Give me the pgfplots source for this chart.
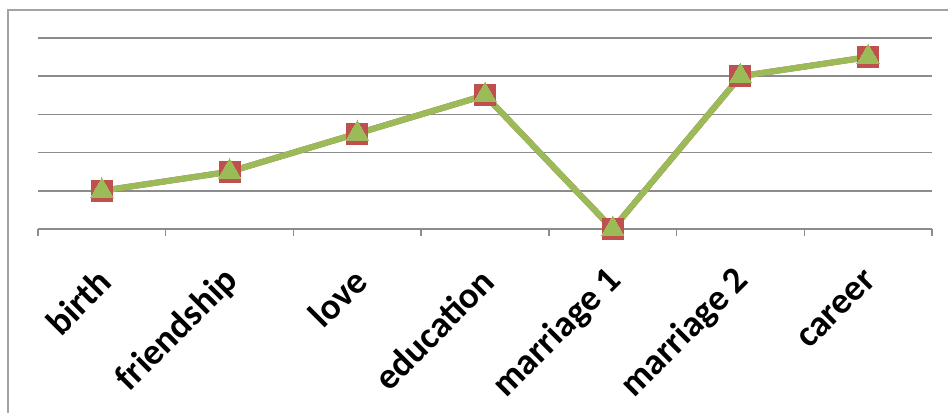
\documentclass[border=0pt]{standalone}
\usepackage{pgfplots}
\pgfplotsset{compat=1.18}
\usepackage{fontspec}
\setmainfont{Carlito}
\definecolor{exred}{HTML}{C0504D}
\definecolor{exgreen}{HTML}{9BBB59}
\definecolor{gridgray}{HTML}{8C8C8C}
\begin{document}
\begin{tikzpicture}[x=1bp,y=1bp]
\path[use as bounding box] (0,0) rectangle (948,412);
\draw[gridgray!80, line width=1.5bp] (8,-20) -- (8,402) -- (970,402);
\begin{axis}[
  at={(38bp,183bp)}, anchor=south west,
  scale only axis, width=894bp, height=191bp,
  xmin=-0.5, xmax=6.5, ymin=0, ymax=5,
  axis x line=bottom, axis y line=left,
  x axis line style={gridgray, line width=1.5bp, -},
  y axis line style={draw=none},
  ytick={1,2,3,4,5}, ymajorgrids, yticklabels={},
  major y tick style={draw=none},
  grid style={gridgray, line width=1.5bp},
  xtick={0,...,6},
  xticklabels={birth,friendship,love,education,marriage 1,marriage 2,career},
  major x tick style={draw=none},
  minor xtick={-0.5,0.5,...,6.5},
  minor tick length=7bp,
  minor x tick style={gridgray, line width=1.5bp},
  tick align=outside,
  xticklabel style={xshift=3bp, yshift=-42bp, rotate=45, anchor=east, font=\bfseries\fontsize{37}{42}\selectfont, inner sep=0pt},
  clip=false,
]
\addplot[exred, line width=6bp, mark=square*, mark size=10.5bp, mark options={fill=exred, draw=exred, line width=0pt}] coordinates {
(0,1) (1,1.5) (2,2.5) (3,3.5) (4,0) (5,4) (6,4.5)};
\addplot[exgreen, line width=6bp, mark=triangle*, mark size=13bp, mark options={fill=exgreen, draw=exgreen, line width=0pt}] coordinates {
(0,1) (1,1.5) (2,2.5) (3,3.5) (4,0) (5,4) (6,4.5)};
\end{axis}
\end{tikzpicture}
\end{document}
